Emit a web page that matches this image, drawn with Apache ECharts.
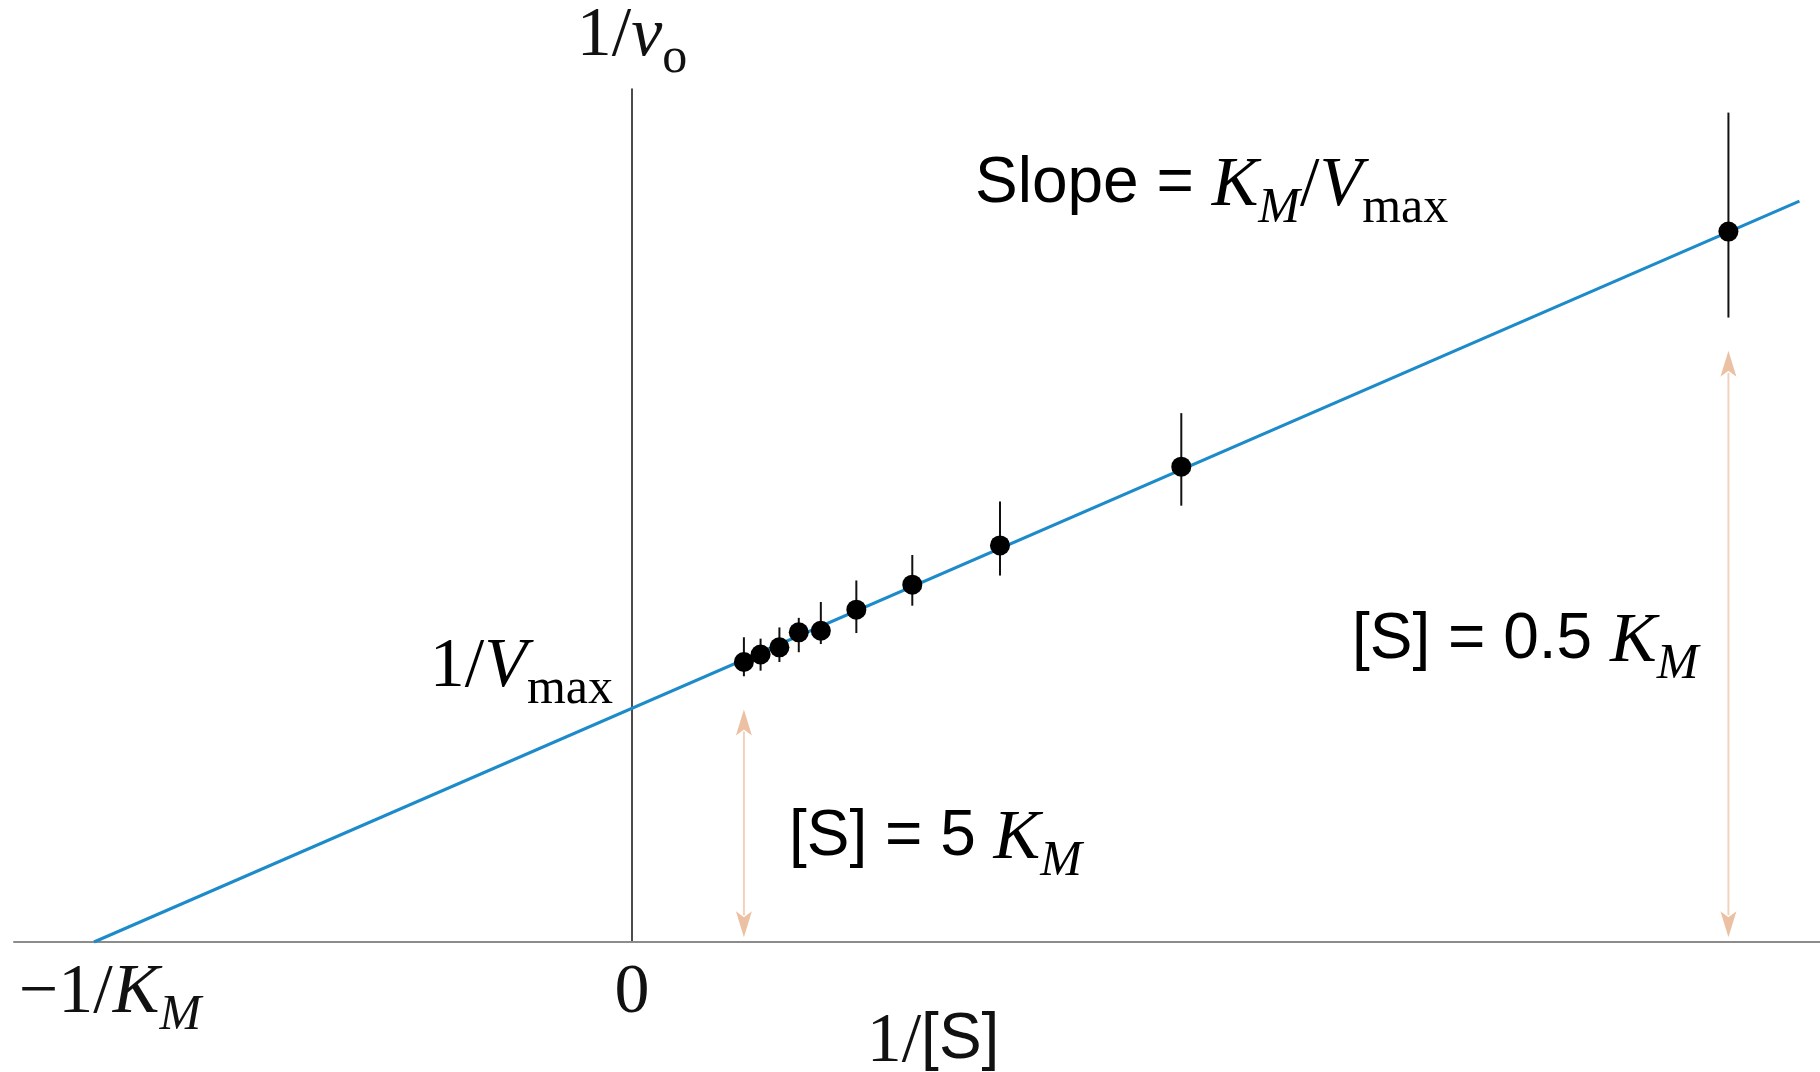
<!DOCTYPE html>
<html>
<head>
<meta charset="utf-8">
<script src="https://cdn.jsdelivr.net/npm/echarts@6/dist/echarts.min.js"></script>
<style>
  html, body { margin: 0; padding: 0; background: #fff; }
  #main { width: 1820px; height: 1072px; }
</style>
</head>
<body>
<div id="main"></div>
<script>
// Lineweaver-Burk plot, units chosen so that K_M = 1 and V_max = 1
// measured points: 1/[S] and 1/v0, with error bar ends
const invS    = [0.208, 0.239, 0.274, 0.310, 0.351, 0.417, 0.521, 0.684, 1.021, 2.038];
const invV    = [1.198, 1.230, 1.261, 1.325, 1.332, 1.422, 1.529, 1.697, 2.034, 3.040];
const errLow  = [1.137, 1.161, 1.198, 1.240, 1.275, 1.322, 1.439, 1.568, 1.867, 2.672];
const errHigh = [1.304, 1.298, 1.346, 1.387, 1.455, 1.547, 1.656, 1.885, 2.263, 3.549];

// fitted line  1/v0 = (K_M/V_max)(1/[S]) + 1/V_max
const fitX = [-1, 2.17];
const fitY = [0, 3.17];

// double arrows at [S] = 5 K_M and [S] = 0.5 K_M
const arrowX    = [0.208, 2.038];
const arrowFrom = [0.02, 0.02];
const arrowTo   = [0.995, 2.53];

// tick labels
const xTicks = [-1, 0];

const SERIF = '"Liberation Serif", "Times New Roman", serif';
const SANS = '"Liberation Sans", Arial, sans-serif';

const rich = {
  n:  { fontFamily: SERIF, fontSize: 70, lineHeight: 70, verticalAlign: 'top', color: '#111' },
  np: { fontFamily: SERIF, fontSize: 70, lineHeight: 70, verticalAlign: 'top', color: '#111', padding: [0, 0, 0, 32] },
  i:  { fontFamily: SERIF, fontStyle: 'italic', fontSize: 70, lineHeight: 70, verticalAlign: 'top', color: '#111' },
  s:  { fontFamily: SANS, fontSize: 64, lineHeight: 70, verticalAlign: 'top', color: '#111' },
  b:  { fontFamily: SERIF, fontStyle: 'italic', fontSize: 50, lineHeight: 50, verticalAlign: 'top', color: '#111', padding: [32, 0, 0, 0] },
  r:  { fontFamily: SERIF, fontSize: 50, lineHeight: 50, verticalAlign: 'top', color: '#111', padding: [32, 0, 0, 0] }
};

function renderErr(params, api) {
  var lo = api.coord([api.value(0), api.value(1)]);
  var hi = api.coord([api.value(0), api.value(2)]);
  return {
    type: 'line',
    shape: { x1: lo[0], y1: lo[1], x2: hi[0], y2: hi[1] },
    style: { stroke: '#111', lineWidth: 2 }
  };
}

function renderArrow(params, api) {
  var a = api.coord([api.value(0), api.value(1)]);
  var b = api.coord([api.value(0), api.value(2)]);
  var hw = 8, hl = 26;
  return {
    type: 'group',
    children: [
      { type: 'line', shape: { x1: a[0], y1: a[1] - hl + 4, x2: b[0], y2: b[1] + hl - 4 },
        style: { stroke: '#f1d2bc', lineWidth: 2 } },
      { type: 'polygon', shape: { points: [[a[0], a[1]], [a[0] - hw, a[1] - hl], [a[0], a[1] - hl + 6], [a[0] + hw, a[1] - hl]] },
        style: { fill: '#ecc0a2' } },
      { type: 'polygon', shape: { points: [[b[0], b[1]], [b[0] - hw, b[1] + hl], [b[0], b[1] + hl - 6], [b[0] + hw, b[1] + hl]] },
        style: { fill: '#ecc0a2' } }
    ]
  };
}

var chart = echarts.init(document.getElementById('main'));

var option = {
  backgroundColor: '#fff',
  animation: false,
  grid: { left: 14, right: 0, top: 89, bottom: 130, outerBoundsMode: 'none', containLabel: false },
  xAxis: {
    type: 'value',
    min: -1.1487,
    max: 2.2082,
    splitLine: { show: false },
    axisTick: { show: false },
    axisLine: { lineStyle: { color: '#8c8c8c', width: 2 } },
    axisLabel: {
      customValues: xTicks,
      margin: 17,
      rich: rich,
      formatter: function (v) {
        return v === -1 ? '{np|\u22121/}{i|K}{b|M}' : '{n|0}';
      }
    },
    name: '{np|1/}{s|[S]}',
    nameLocation: 'middle',
    nameGap: 66,
    nameMoveOverlap: false,
    nameTextStyle: { rich: rich }
  },
  yAxis: {
    type: 'value',
    min: 0,
    max: 3.65,
    splitLine: { show: false },
    axisTick: { show: false },
    axisLabel: { show: false },
    axisLine: { onZero: true, lineStyle: { color: '#111', width: 1.5 } },
    name: '{n|1/}{i|v}{r|o}',
    nameLocation: 'end',
    nameGap: 17,
    nameMoveOverlap: false,
    nameTextStyle: { rich: rich }
  },
  graphic: [
    { type: 'text', right: 1207, top: 633,
      style: { text: '{n|1/}{i|V}{r|max}', rich: rich } },
    { type: 'text', left: 975, top: 152,
      style: { text: '{s|Slope = }{i|K}{b|M}{n|/}{i|V}{r|max}', rich: rich } },
    { type: 'text', left: 789, top: 805,
      style: { text: '{s|[S] = 5 }{i|K}{b|M}', rich: rich } },
    { type: 'text', left: 1352, top: 608,
      style: { text: '{s|[S] = 0.5 }{i|K}{b|M}', rich: rich } }
  ],
  series: [
    {
      type: 'custom',
      name: 'arrows',
      renderItem: renderArrow,
      data: arrowX.map(function (x, i) { return [x, arrowFrom[i], arrowTo[i]]; }),
      encode: { x: 0, y: [1, 2] },
      z: 1
    },
    {
      type: 'line',
      name: 'fit',
      data: fitX.map(function (x, i) { return [x, fitY[i]]; }),
      showSymbol: false,
      lineStyle: { color: '#1d8bc9', width: 3 },
      z: 2
    },
    {
      type: 'custom',
      name: 'error',
      renderItem: renderErr,
      data: invS.map(function (x, i) { return [x, errLow[i], errHigh[i]]; }),
      encode: { x: 0, y: [1, 2] },
      z: 3
    },
    {
      type: 'scatter',
      name: 'points',
      data: invS.map(function (x, i) { return [x, invV[i]]; }),
      symbolSize: 20,
      itemStyle: { color: '#000', opacity: 1 },
      z: 4
    }
  ]
};

chart.setOption(option);
</script>
</body>
</html>
